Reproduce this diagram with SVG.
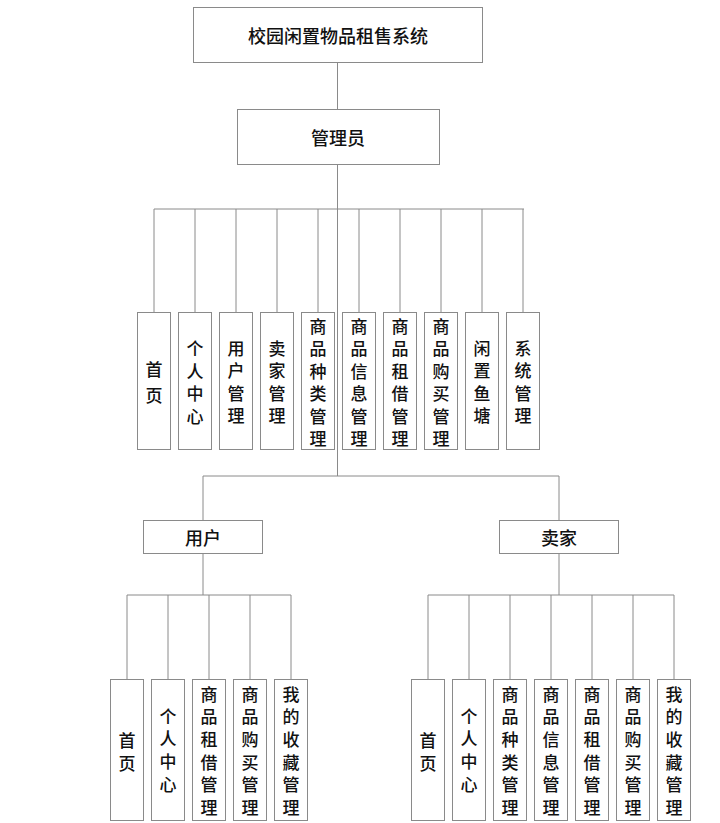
<svg xmlns="http://www.w3.org/2000/svg" width="720" height="823" viewBox="0 0 720 823">
<style>
.box{fill:#fff;stroke:#8a8a8a;stroke-width:1}
.ln{fill:none;stroke:#8a8a8a;stroke-width:1}
text{font-family:"Noto Sans CJK SC","Noto Sans",sans-serif;fill:#111;text-anchor:middle;dominant-baseline:central;font-weight:500}
.t{font-size:18px}
.v{font-size:17px}
</style>
<rect width="720" height="823" fill="#fff"/>
<g id="connectors">
<path class="ln" d="M337.5,62V109M337.5,164V476M154,209H524M154,209V312M195,209V312M236,209V312M277,209V312M318,209V312M359,209V312M400,209V312M441,209V312M482,209V312M523,209V312"/>
<path class="ln" d="M203,476H559M203,476V520M559,476V520"/>
<path class="ln" d="M203,553V595M127,595H291M127,595V679M168,595V679M209,595V679M250,595V679M291,595V679"/>
<path class="ln" d="M559,553V595M428,595H674M428,595V679M469,595V679M510,595V679M551,595V679M592,595V679M633,595V679M674,595V679"/>
</g>
<g id="root"><rect class="box" x="193.5" y="7.5" width="289" height="55"/><text class="t" x="338" y="35">校园闲置物品租售系统</text></g>
<g id="admin"><rect class="box" x="237.5" y="109.5" width="202" height="55"/><text class="t" x="338" y="137">管理员</text></g>

<g id="a1" class="v"><rect class="box" x="137.5" y="312.5" width="33" height="137"/><text x="154" y="368">首</text><text x="154" y="394">页</text></g>
<g id="a2" class="v"><rect class="box" x="178.5" y="312.5" width="33" height="137"/><text x="195" y="347">个</text><text x="195" y="370">人</text><text x="195" y="392">中</text><text x="195" y="415">心</text></g>
<g id="a3" class="v"><rect class="box" x="219.5" y="312.5" width="33" height="137"/><text x="236" y="347">用</text><text x="236" y="369.5">户</text><text x="236" y="392">管</text><text x="236" y="414.5">理</text></g>
<g id="a4" class="v"><rect class="box" x="260.5" y="312.5" width="33" height="137"/><text x="277" y="347">卖</text><text x="277" y="369.5">家</text><text x="277" y="392">管</text><text x="277" y="414.5">理</text></g>
<g id="a5" class="v"><rect class="box" x="301.5" y="312.5" width="33" height="137"/><text x="318" y="325">商</text><text x="318" y="347.5">品</text><text x="318" y="370">种</text><text x="318" y="392.5">类</text><text x="318" y="415">管</text><text x="318" y="437.5">理</text></g>
<g id="a6" class="v"><rect class="box" x="342.5" y="312.5" width="33" height="137"/><text x="359" y="325">商</text><text x="359" y="347.5">品</text><text x="359" y="370">信</text><text x="359" y="392.5">息</text><text x="359" y="415">管</text><text x="359" y="437.5">理</text></g>
<g id="a7" class="v"><rect class="box" x="383.5" y="312.5" width="33" height="137"/><text x="400" y="325">商</text><text x="400" y="347.5">品</text><text x="400" y="370">租</text><text x="400" y="392.5">借</text><text x="400" y="415">管</text><text x="400" y="437.5">理</text></g>
<g id="a8" class="v"><rect class="box" x="424.5" y="312.5" width="33" height="137"/><text x="441" y="325">商</text><text x="441" y="347.5">品</text><text x="441" y="370">购</text><text x="441" y="392.5">买</text><text x="441" y="415">管</text><text x="441" y="437.5">理</text></g>
<g id="a9" class="v"><rect class="box" x="465.5" y="312.5" width="33" height="137"/><text x="482" y="347">闲</text><text x="482" y="369.5">置</text><text x="482" y="392">鱼</text><text x="482" y="414.5">塘</text></g>
<g id="a10" class="v"><rect class="box" x="506.5" y="312.5" width="33" height="137"/><text x="523" y="347">系</text><text x="523" y="369.5">统</text><text x="523" y="392">管</text><text x="523" y="414.5">理</text></g>

<g id="user"><rect class="box" x="143.5" y="520.5" width="119" height="33"/><text class="t" x="203" y="537">用户</text></g>
<g id="seller"><rect class="box" x="499.5" y="520.5" width="119" height="33"/><text class="t" x="559" y="537">卖家</text></g>

<g id="u1" class="v"><rect class="box" x="110.5" y="679.5" width="33" height="141"/><text x="127" y="739">首</text><text x="127" y="762">页</text></g>
<g id="u2" class="v"><rect class="box" x="151.5" y="679.5" width="33" height="141"/><text x="168" y="715">个</text><text x="168" y="737.5">人</text><text x="168" y="760">中</text><text x="168" y="783">心</text></g>
<g id="u3" class="v"><rect class="box" x="192.5" y="679.5" width="33" height="141"/><text x="209" y="693">商</text><text x="209" y="715.7">品</text><text x="209" y="738.4">租</text><text x="209" y="761.1">借</text><text x="209" y="783.8">管</text><text x="209" y="806.5">理</text></g>
<g id="u4" class="v"><rect class="box" x="233.5" y="679.5" width="33" height="141"/><text x="250" y="693">商</text><text x="250" y="715.7">品</text><text x="250" y="738.4">购</text><text x="250" y="761.1">买</text><text x="250" y="783.8">管</text><text x="250" y="806.5">理</text></g>
<g id="u5" class="v"><rect class="box" x="274.5" y="679.5" width="33" height="141"/><text x="291" y="693">我</text><text x="291" y="715.7">的</text><text x="291" y="738.4">收</text><text x="291" y="761.1">藏</text><text x="291" y="783.8">管</text><text x="291" y="806.5">理</text></g>

<g id="s1" class="v"><rect class="box" x="411.5" y="679.5" width="33" height="141"/><text x="428" y="739">首</text><text x="428" y="762">页</text></g>
<g id="s2" class="v"><rect class="box" x="452.5" y="679.5" width="33" height="141"/><text x="469" y="715">个</text><text x="469" y="737.5">人</text><text x="469" y="760">中</text><text x="469" y="783">心</text></g>
<g id="s3" class="v"><rect class="box" x="493.5" y="679.5" width="33" height="141"/><text x="510" y="693">商</text><text x="510" y="715.7">品</text><text x="510" y="738.4">种</text><text x="510" y="761.1">类</text><text x="510" y="783.8">管</text><text x="510" y="806.5">理</text></g>
<g id="s4" class="v"><rect class="box" x="534.5" y="679.5" width="33" height="141"/><text x="551" y="693">商</text><text x="551" y="715.7">品</text><text x="551" y="738.4">信</text><text x="551" y="761.1">息</text><text x="551" y="783.8">管</text><text x="551" y="806.5">理</text></g>
<g id="s5" class="v"><rect class="box" x="575.5" y="679.5" width="33" height="141"/><text x="592" y="693">商</text><text x="592" y="715.7">品</text><text x="592" y="738.4">租</text><text x="592" y="761.1">借</text><text x="592" y="783.8">管</text><text x="592" y="806.5">理</text></g>
<g id="s6" class="v"><rect class="box" x="616.5" y="679.5" width="33" height="141"/><text x="633" y="693">商</text><text x="633" y="715.7">品</text><text x="633" y="738.4">购</text><text x="633" y="761.1">买</text><text x="633" y="783.8">管</text><text x="633" y="806.5">理</text></g>
<g id="s7" class="v"><rect class="box" x="657.5" y="679.5" width="33" height="141"/><text x="674" y="693">我</text><text x="674" y="715.7">的</text><text x="674" y="738.4">收</text><text x="674" y="761.1">藏</text><text x="674" y="783.8">管</text><text x="674" y="806.5">理</text></g>
</svg>
